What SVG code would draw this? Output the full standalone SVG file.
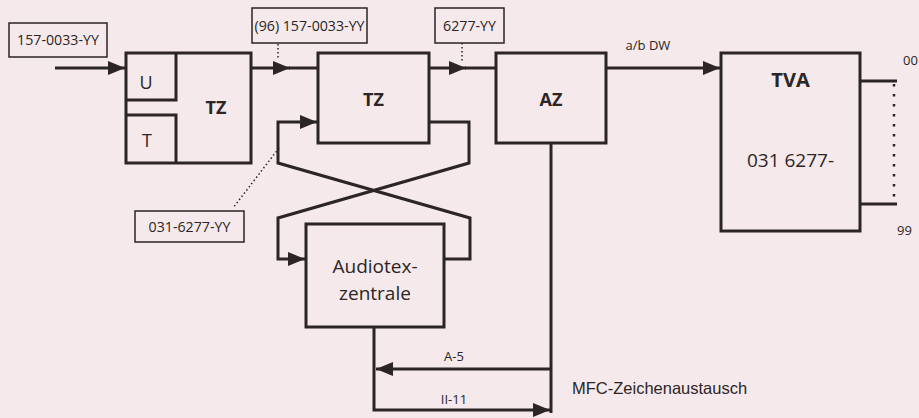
<svg xmlns="http://www.w3.org/2000/svg" width="919" height="418" viewBox="0 0 919 418">
<style>
.bg{fill:#f5e9eb}
.box{fill:none;stroke:#2b2525;stroke-width:3}
.lbl{fill:none;stroke:#2b2525;stroke-width:1.5}
.ln{fill:none;stroke:#2b2525;stroke-width:3}
.dot{fill:none;stroke:#2b2525;stroke-width:1.5;stroke-dasharray:1.5 2.5}
text{font-family:"Open Sans","Noto Sans",sans-serif;fill:#2b2525}
.s{font-size:14.2px}
.t{font-size:13px}
.b{font-size:18px;font-weight:bold}
.m{font-size:18px}
.a{font-size:19px}
.h{font-family:"Liberation Sans",Arial,sans-serif;font-size:16.5px}
</style>
<defs>
<marker id="ah" markerWidth="17" markerHeight="14" refX="17" refY="7" orient="auto" markerUnits="userSpaceOnUse">
<path d="M0,0 L17,7 L0,14 Z" fill="#2b2525"/>
</marker>
</defs>
<rect class="bg" x="0" y="0" width="919" height="418"/>

<g id="label-157">
<rect class="lbl" x="9" y="23" width="98" height="34"/>
<text class="s" x="58" y="45" text-anchor="middle">157-0033-YY</text>
</g>
<g id="label-96">
<rect class="lbl" x="252" y="8" width="115" height="35"/>
<text class="s" x="309.5" y="30.5" text-anchor="middle">(96) 157-0033-YY</text>
</g>
<g id="label-6277">
<rect class="lbl" x="435" y="8" width="69" height="35"/>
<text class="s" x="469.5" y="30.5" text-anchor="middle">6277-YY</text>
</g>
<g id="label-031">
<rect class="lbl" x="135" y="211" width="109" height="31"/>
<text class="s" x="189.5" y="231.5" text-anchor="middle">031-6277-YY</text>
</g>

<g id="tz1">
<rect class="box" x="126" y="53" width="125" height="110"/>
<path class="box" d="M126,100 H176 V53 M126,115 H176 V163"/>
<text class="m" x="146" y="89" text-anchor="middle">U</text>
<text class="m" x="147" y="147" text-anchor="middle">T</text>
<text class="b" x="216" y="114" text-anchor="middle">TZ</text>
</g>
<g id="tz2">
<rect class="box" x="318" y="53" width="111" height="90"/>
<text class="b" x="373.5" y="106" text-anchor="middle">TZ</text>
</g>
<g id="az">
<rect class="box" x="496" y="53" width="110" height="90"/>
<text class="b" x="551" y="106" text-anchor="middle">AZ</text>
</g>
<g id="tva">
<rect class="box" x="721" y="53" width="139" height="178"/>
<text font-size="20" font-weight="bold" x="790.5" y="87" text-anchor="middle">TVA</text>
<text font-size="19" x="790.5" y="167" text-anchor="middle">031 6277-</text>
<path class="ln" d="M860,81 H897 M860,204 H897"/>
<path d="M894,84 V198" fill="none" stroke="#2b2525" stroke-width="2.5" stroke-dasharray="2.5 7.5"/>
<text class="t" x="903" y="65">00</text>
<text class="t" x="897" y="235">99</text>
</g>
<g id="audiotex">
<rect class="box" x="306" y="224" width="138" height="103"/>
<text class="a" x="375" y="273" text-anchor="middle">Audiotex-</text>
<text class="a" x="375" y="299.5" text-anchor="middle">zentrale</text>
</g>

<g id="connectors">
<path class="ln" d="M55,68 H125" marker-end="url(#ah)"/>
<path class="ln" d="M251,68 H290" marker-end="url(#ah)"/>
<path class="ln" d="M289,68 H318"/>
<path class="ln" d="M429,68 H466" marker-end="url(#ah)"/>
<path class="ln" d="M465,68 H496"/>
<path class="ln" d="M606,68 H720" marker-end="url(#ah)"/>
<path class="ln" d="M429,122 H469 V163 L278,218 V259 H305" marker-end="url(#ah)"/>
<path class="ln" d="M444,259 H470 V218 L278,163 V122 H317" marker-end="url(#ah)"/>
<path class="ln" d="M551,143 V413"/>
<path class="ln" d="M551,369 H376" marker-end="url(#ah)"/>
<path class="ln" d="M374,327 V410 H550" marker-end="url(#ah)"/>
<path class="dot" d="M278,44 V60"/>
<path class="dot" d="M462,43 V63"/>
<path class="dot" d="M279,148 L233,208"/>
<text class="t" x="648" y="50" text-anchor="middle">a/b DW</text>
<text class="t" x="454" y="361" text-anchor="middle">A-5</text>
<text class="t" x="454" y="404" text-anchor="middle">II-11</text>
<text class="h" x="572" y="394">MFC-Zeichenaustausch</text>
</g>
</svg>
